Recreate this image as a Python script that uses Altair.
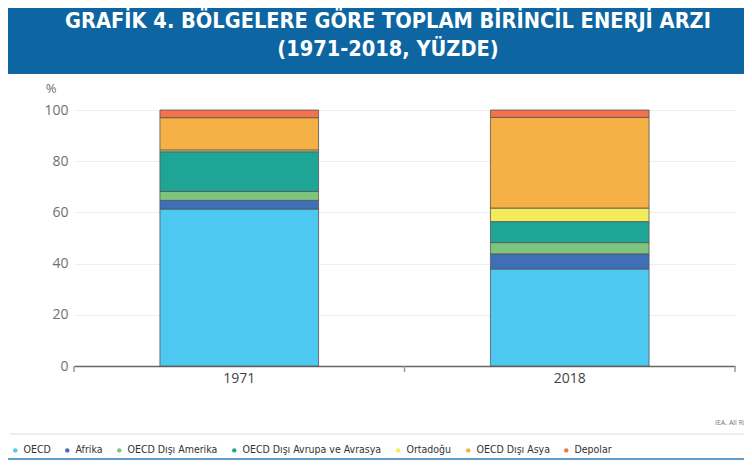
import altair as alt
import pandas as pd

years = ["1971", "2018"]
regions = ["OECD", "Afrika", "OECD Dışı Amerika", "OECD Dışı Avrupa ve Avrasya",
           "Ortadoğu", "OECD Dışı Asya", "Depolar"]
colors = ["#4DC8F0", "#3E6FB7", "#7DC57F", "#1FA596", "#F2EB5C", "#F5B146", "#F2724A"]
share_1971 = [61.3, 3.4, 3.5, 15.5, 0.7, 12.6, 3.0]
share_2018 = [37.9, 5.9, 4.4, 8.2, 5.3, 35.4, 2.9]
y_ticks = [0, 20, 40, 60, 80, 100]
title_lines = ["GRAFİK 4. BÖLGELERE GÖRE TOPLAM BİRİNCİL ENERJİ ARZI", "(1971-2018, YÜZDE)"]

rows = []
for yr, vals in zip(years, [share_1971, share_2018]):
    for i, (r, v) in enumerate(zip(regions, vals)):
        rows.append({"yil": yr, "bolge": r, "deger": v, "idx": i})
df = pd.DataFrame(rows)
dummy = pd.DataFrame({"a": [0]})
tick_df = pd.DataFrame({"yil": years})
last_df = pd.DataFrame({"yil": [years[-1]]})

COND = "DejaVu Sans Condensed, Roboto, sans-serif"

TOTAL_W, TOTAL_H = 736, 452
W, H = 661, 256
OX, OY = 66, 102  # padding (page offset 8 added)
P_IN, P_OUT = 0.52, 0.26
step = W / (len(years) - P_IN + 2 * P_OUT)
half_gap = P_OUT * step  # distance from band edge to boundary between bands

xscale = alt.Scale(paddingInner=P_IN, paddingOuter=P_OUT)

bars = alt.Chart(df).mark_bar(stroke="#555555", strokeWidth=0.8).encode(
    x=alt.X("yil:N", sort=years, scale=xscale,
            axis=alt.Axis(title=None, labelAngle=0, labelFont="Open Sans", labelFontSize=14,
                          labelColor="#444444", labelPadding=5, ticks=False,
                          domainColor="#666666", domainWidth=1.5, grid=False)),
    y=alt.Y("deger:Q", stack="zero",
            scale=alt.Scale(domain=[0, 100], nice=False),
            axis=alt.Axis(title=None, values=y_ticks, labelFont="Open Sans", labelFontSize=14,
                          labelColor="#707070", labelPadding=6, ticks=False, domain=False,
                          gridColor="#EFEFEF", gridWidth=1)),
    color=alt.Color("bolge:N", scale=alt.Scale(domain=regions, range=colors),
                    legend=alt.Legend(title=None, orient="none", direction="horizontal",
                                      legendX=-64, legendY=335, symbolType="circle",
                                      symbolSize=20, symbolStrokeWidth=0,
                                      labelFont=COND, labelFontSize=10.5, labelLimit=400,
                                      labelColor="#333333", labelOffset=3, columnPadding=11,
                                      columns=7)),
    order=alt.Order("idx:Q", sort="ascending"),
)

ticks_a = alt.Chart(tick_df).mark_rule(color="#999999", strokeWidth=1.5, xOffset=-half_gap).encode(
    x=alt.X("yil:N", sort=years, bandPosition=0, scale=xscale),
    y=alt.value(H), y2=alt.value(H + 6))
ticks_b = alt.Chart(last_df).mark_rule(color="#999999", strokeWidth=1.5, xOffset=half_gap).encode(
    x=alt.X("yil:N", sort=years, bandPosition=1, scale=xscale),
    y=alt.value(H), y2=alt.value(H + 6))

band = alt.Chart(dummy).mark_rect(color="#0D66A2").encode(
    x=alt.value(-71), x2=alt.value(700), y=alt.value(-120), y2=alt.value(-36))

t1 = alt.Chart(dummy).mark_text(text=title_lines[0], font=COND, fontWeight="bold",
                                fontSize=21.6, color="white", align="center", baseline="middle").encode(
    x=alt.value(314), y=alt.value(-88))
t2 = alt.Chart(dummy).mark_text(text=title_lines[1], font=COND, fontWeight="bold",
                                fontSize=21.6, color="white", align="center", baseline="middle").encode(
    x=alt.value(314), y=alt.value(-60))

pct = alt.Chart(dummy).mark_text(text="%", font="Open Sans", fontSize=13, color="#707070",
                                 align="center", baseline="middle").encode(
    x=alt.value(-23), y=alt.value(-21))

src = alt.Chart(dummy).mark_text(text="IEA. All Rights Reserved", font="Open Sans", fontSize=7,
                                 color="#777777", align="left", baseline="middle").encode(
    x=alt.value(641), y=alt.value(313))

sep = alt.Chart(dummy).mark_rule(color="#E8E8E8", strokeWidth=1.5).encode(
    x=alt.value(-64), x2=alt.value(690), y=alt.value(324))
left = alt.Chart(dummy).mark_rule(color="#2D7DBA", strokeWidth=1.5).encode(
    x=alt.value(-70), y=alt.value(-36), y2=alt.value(349))
bottom = alt.Chart(dummy).mark_rule(color="#2D7DBA", strokeWidth=1.5).encode(
    x=alt.value(-70), x2=alt.value(690), y=alt.value(349))

chart = alt.layer(band, t1, t2, pct, src, sep, left, bottom, bars, ticks_a, ticks_b).properties(
    width=W, height=H,
    autosize=alt.AutoSizeParams(type="none"),
    padding={"left": OX, "top": OY, "right": TOTAL_W - OX - W, "bottom": TOTAL_H - OY - H},
    background="white",
).configure_view(stroke=None)

chart.save("out.html", embed_options={"renderer": "svg", "actions": False})
